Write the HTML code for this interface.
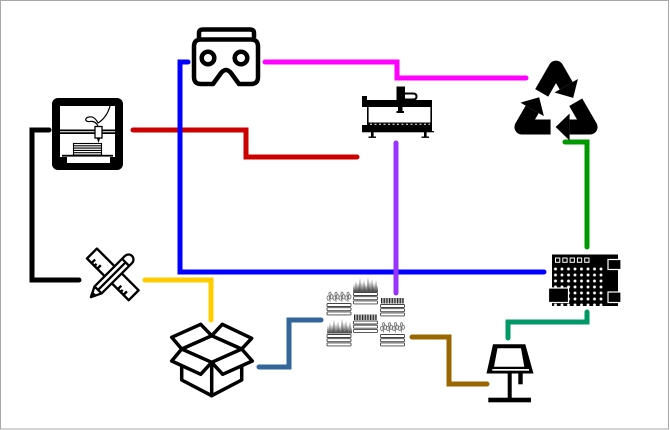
<!DOCTYPE html>
<html><head><meta charset="utf-8"><style>
html,body{margin:0;padding:0;background:#fff;}
svg{display:block;}
</style></head><body>
<svg width="670" height="430" viewBox="0 0 670 430" xmlns="http://www.w3.org/2000/svg">
<defs>
<pattern id="dots" x="552.25" y="266" width="6.5" height="6" patternUnits="userSpaceOnUse"><circle cx="3.25" cy="3" r="1.45" fill="#fff"/></pattern>
</defs>
<rect x="0.5" y="0.5" width="668" height="428.5" fill="#fff" stroke="#a8a8a8" stroke-width="1"/>

<!-- connectors -->
<g fill="none" stroke-width="5" stroke-linecap="round" stroke-linejoin="miter">
<path d="M49,130 H32 V280 H79" stroke="#000"/>
<path d="M133,130 H246 V157 H357" stroke="#cc0000"/>
<path d="M188,62 H180 V272 H544" stroke="#0000ff"/>
<path d="M265,62 H397 V78 H526" stroke="#ff00ff"/>
<path d="M396,143 V293" stroke="#9933ff"/>
<path d="M565,142 H587 V247" stroke="#009900"/>
<path d="M587,312 V322 H508 V338" stroke="#009966"/>
<path d="M412,337 H449 V384 H487" stroke="#996600"/>
<path d="M145,280 H211 V320" stroke="#ffcc00"/>
<path d="M259,367 H289 V320 H321" stroke="#336699"/>
</g>

<!-- VR headset -->
<g fill="none" stroke="#000" stroke-width="4.5" stroke-linejoin="round">
<path d="M199,38 V33 Q199,29.5 203,29.5 H250 Q254,29.5 254,33 V38"/>
<path d="M201,39.5 H251 Q258,39.5 258,46.5 V77 Q258,84 251,84 H239 L231,73 Q226,67 221,73 L213,84 H201 Q194,84 194,77 V46.5 Q194,39.5 201,39.5 Z"/>
<circle cx="208" cy="58" r="6.3"/>
<circle cx="241" cy="58" r="6.3"/>
</g>

<!-- 3D printer -->
<rect x="52" y="98" width="71" height="72" rx="6" fill="#000"/>
<rect x="60" y="106" width="55" height="51" fill="#fff"/>
<rect x="67" y="156.5" width="43" height="6.5" fill="#fff"/>
<rect x="60" y="129.5" width="55" height="4.5" fill="#000"/>
<line x1="60" y1="131.7" x2="115" y2="131.7" stroke="#fff" stroke-width="1"/>
<path d="M98,126 C96,122 93,121 90,121.5 C85,122 84,118 89,117 C93,116 96,119 98,123 C103,120 108,114 110,106" fill="none" stroke="#000" stroke-width="1.2"/>
<rect x="95" y="126.5" width="7" height="11.5" fill="#fff" stroke="#000" stroke-width="1.3"/>
<path d="M97,138.5 H100 L98.5,143 Z" fill="#000"/>
<g fill="none" stroke="#000" stroke-width="1.1">
<rect x="73.5" y="143.5" width="28" height="11.5"/>
<line x1="73.5" y1="145.8" x2="101.5" y2="145.8"/>
<line x1="73.5" y1="148.1" x2="101.5" y2="148.1"/>
<line x1="73.5" y1="150.4" x2="101.5" y2="150.4"/>
<line x1="73.5" y1="152.7" x2="101.5" y2="152.7"/>
</g>
<rect x="62" y="154.8" width="51" height="1.8" fill="#000"/>

<!-- CNC -->
<g fill="#000">
<rect x="362" y="96" width="5" height="11"/>
<rect x="362" y="100" width="70" height="7"/>
<rect x="396.5" y="86.5" width="8.5" height="14"/>
<rect x="398" y="107" width="4.5" height="4"/>
<rect x="396.5" y="111" width="7.5" height="2"/>
<rect x="367" y="107" width="1.6" height="20"/>
<rect x="430.4" y="107" width="1.6" height="25"/>
<rect x="368" y="122.5" width="63.5" height="9"/>
<rect x="362" y="125" width="6" height="6"/>
<rect x="362" y="131" width="72" height="1.3"/>
<rect x="371" y="131" width="2.6" height="6"/>
<rect x="424" y="131" width="2.6" height="6"/>
<rect x="368.5" y="136.5" width="7.5" height="1.4"/>
<rect x="421.5" y="136.5" width="7.5" height="1.4"/>
</g>
<path d="M405,93.5 H413 Q416.5,93.5 416.5,96.5 Q416.5,99.5 413,99.5 H405" fill="none" stroke="#000" stroke-width="2"/>
<line x1="370" y1="124.3" x2="430" y2="124.3" stroke="#fff" stroke-width="1" stroke-dasharray="2 2.5"/>

<!-- Recycle -->
<g fill="#000">
<g>
<path d="M541.7,92.9 L556,68.1 L566.2,85.8" fill="none" stroke="#000" stroke-width="15" stroke-linejoin="round"/>
<path d="M577.9,79.05 L554.5,92.55 L573.2,97.9 Z"/>
</g>
<g transform="rotate(120 556 107.4)">
<path d="M541.7,92.9 L556,68.1 L566.2,85.8" fill="none" stroke="#000" stroke-width="15" stroke-linejoin="round"/>
<path d="M577.9,79.05 L554.5,92.55 L573.2,97.9 Z"/>
</g>
<g transform="rotate(240 556 107.4)">
<path d="M541.7,92.9 L556,68.1 L566.2,85.8" fill="none" stroke="#000" stroke-width="15" stroke-linejoin="round"/>
<path d="M577.9,79.05 L554.5,92.55 L573.2,97.9 Z"/>
</g>
</g>

<!-- Microcontroller -->
<rect x="552" y="254.5" width="66" height="51.5" fill="#000"/>
<rect x="552.25" y="266" width="52" height="40" fill="url(#dots)"/>
<g fill="#000" stroke="#fff" stroke-width="1">
<rect x="555.5" y="258" width="4.3" height="4.3"/>
<rect x="562.8" y="258" width="4.3" height="4.3"/>
<rect x="570.1" y="258" width="4.3" height="4.3"/>
<rect x="577.4" y="258" width="4.3" height="4.3"/>
<rect x="584.7" y="258" width="4.3" height="4.3"/>
<rect x="548.5" y="288" width="20" height="14.5" stroke-width="1.2"/>
<rect x="608" y="259.5" width="13" height="10" stroke-width="1.2"/>
<rect x="608" y="292" width="13" height="10.5" stroke-width="1.2"/>
</g>

<!-- Lamp -->
<path d="M493,344.3 H525.3 L533.5,373.5 H486.5 Z" fill="#000"/>
<path d="M497.5,348.3 H521 L524.3,366.7 H494 Z" fill="#fff"/>
<rect x="492.3" y="369" width="36.7" height="1.7" fill="#fff"/>
<rect x="507.7" y="373" width="4" height="25.5" fill="#000"/>
<rect x="518.3" y="373" width="4.4" height="11.3" fill="#000"/>
<rect x="488.3" y="397.7" width="42.7" height="4.6" fill="#000"/>

<!-- Box -->
<g stroke="#000" stroke-width="3.5" stroke-linejoin="round" stroke-linecap="round">
<path d="M181.7,349 L211.7,335.7 L241.7,349 L211.7,362.3 Z" fill="#fff"/>
<path d="M181.7,349 V380 L211.7,395.7 L241.7,380 V349" fill="#fff"/>
<path d="M211.7,362.3 V395.7" fill="none"/>
<path d="M181.7,349 L171.7,337.3 L200.7,324.3 L211.7,335.7 Z" fill="#fff"/>
<path d="M211.7,335.7 L222.3,324.3 L251.7,338.3 L241.7,349 Z" fill="#fff"/>
<path d="M181.7,349 L171.7,361 L200.7,374.3 L211.7,362.3 Z" fill="#fff"/>
<path d="M211.7,362.3 L222.7,374.3 L252.3,361 L241.7,349 Z" fill="#fff"/>
</g>

<!-- Ruler & pencil -->
<g transform="translate(112.8,274.4) rotate(45)" stroke="#000" stroke-width="2.4">
<rect x="-29.5" y="-7" width="59" height="14" fill="#fff" stroke-linejoin="round"/>
<line x1="-23" y1="7" x2="-23" y2="2"/>
<line x1="-19" y1="7" x2="-19" y2="4"/>
<line x1="-15" y1="7" x2="-15" y2="2"/>
<line x1="14" y1="7" x2="14" y2="2"/>
<line x1="18" y1="7" x2="18" y2="4"/>
<line x1="22" y1="7" x2="22" y2="2"/>
</g>
<g transform="translate(111.5,276.5) rotate(-45)" stroke="#000" stroke-width="2.3" stroke-linejoin="round">
<path d="M-19,-5 H24 A5,5 0 0 1 24,5 H-19 L-29,0 Z" fill="#fff"/>
<line x1="-19" y1="-5" x2="-19" y2="5"/>
<line x1="-19" y1="0" x2="20" y2="0"/>
<line x1="20" y1="-5" x2="20" y2="5"/>
<path d="M-29,0 L-25,-2 L-25,2 Z" fill="#000"/>
</g>

<!-- Plants / planters -->
<g fill="#fff" stroke="#444" stroke-width="0.9">
<rect x="327" y="303.5" width="24" height="3" rx="0.8"/><rect x="327" y="307.7" width="24" height="3" rx="0.8"/><rect x="327" y="311.9" width="24" height="3" rx="0.8"/>
<rect x="327" y="334.5" width="24" height="3" rx="0.8"/><rect x="327" y="338.7" width="24" height="3" rx="0.8"/><rect x="327" y="342.9" width="24" height="3" rx="0.8"/>
<rect x="353.5" y="292.5" width="24" height="3" rx="0.8"/><rect x="353.5" y="296.7" width="24" height="3" rx="0.8"/><rect x="353.5" y="300.9" width="24" height="3" rx="0.8"/>
<rect x="353.5" y="321" width="24" height="3" rx="0.8"/><rect x="353.5" y="325.2" width="24" height="3" rx="0.8"/><rect x="353.5" y="329.4" width="24" height="3" rx="0.8"/>
<rect x="380.5" y="304.5" width="24" height="3" rx="0.8"/><rect x="380.5" y="308.7" width="24" height="3" rx="0.8"/><rect x="380.5" y="312.9" width="24" height="3" rx="0.8"/>
<rect x="380.5" y="334.5" width="24" height="3" rx="0.8"/><rect x="380.5" y="338.7" width="24" height="3" rx="0.8"/><rect x="380.5" y="342.9" width="24" height="3" rx="0.8"/>
</g>
<g fill="#555">
<path transform="translate(353,277)" d="M0,15 L1,7 L2,14 L3,4 L4,14 L5,6 L6,13 L7,1 L8,14 L9,5 L10,14 L11,3 L12,13 L13,7 L14,14 L15,0 L16,13 L17,4 L18,14 L19,2 L20,13 L21,6 L22,14 L23,3 L24,14 L25,8 L25,15 Z"/>
<path transform="translate(327,318.5)" d="M0,15 L1,7 L2,14 L3,4 L4,14 L5,6 L6,13 L7,1 L8,14 L9,5 L10,14 L11,3 L12,13 L13,7 L14,14 L15,0 L16,13 L17,4 L18,14 L19,2 L20,13 L21,6 L22,14 L23,3 L24,14 L25,8 L25,15 Z"/>
</g>
<line x1="354" y1="317.3" x2="377" y2="317.3" stroke="#111" stroke-width="5.5" stroke-dasharray="0.9 0.7"/>
<line x1="381" y1="300.8" x2="404" y2="300.8" stroke="#111" stroke-width="5.5" stroke-dasharray="0.9 0.7"/>
<g stroke="#666" stroke-width="0.7" fill="#eee">
<g transform="translate(327,292)">
<path d="M3,10 V4 M9,10 V4 M15,10 V4 M21,10 V4" fill="none"/>
<ellipse cx="1.3" cy="6" rx="1.3" ry="2.2"/><ellipse cx="4.7" cy="4.8" rx="1.3" ry="2.2"/><ellipse cx="3" cy="1.8" rx="1.1" ry="1.7"/>
<ellipse cx="7.3" cy="6" rx="1.3" ry="2.2"/><ellipse cx="10.7" cy="4.8" rx="1.3" ry="2.2"/><ellipse cx="9" cy="1.8" rx="1.1" ry="1.7"/>
<ellipse cx="13.3" cy="6" rx="1.3" ry="2.2"/><ellipse cx="16.7" cy="4.8" rx="1.3" ry="2.2"/><ellipse cx="15" cy="1.8" rx="1.1" ry="1.7"/>
<ellipse cx="19.3" cy="6" rx="1.3" ry="2.2"/><ellipse cx="22.7" cy="4.8" rx="1.3" ry="2.2"/><ellipse cx="21" cy="1.8" rx="1.1" ry="1.7"/>
</g>
<g transform="translate(380.5,322.5)">
<path d="M3,10 V4 M9,10 V4 M15,10 V4 M21,10 V4" fill="none"/>
<ellipse cx="1.3" cy="6" rx="1.3" ry="2.2"/><ellipse cx="4.7" cy="4.8" rx="1.3" ry="2.2"/><ellipse cx="3" cy="1.8" rx="1.1" ry="1.7"/>
<ellipse cx="7.3" cy="6" rx="1.3" ry="2.2"/><ellipse cx="10.7" cy="4.8" rx="1.3" ry="2.2"/><ellipse cx="9" cy="1.8" rx="1.1" ry="1.7"/>
<ellipse cx="13.3" cy="6" rx="1.3" ry="2.2"/><ellipse cx="16.7" cy="4.8" rx="1.3" ry="2.2"/><ellipse cx="15" cy="1.8" rx="1.1" ry="1.7"/>
<ellipse cx="19.3" cy="6" rx="1.3" ry="2.2"/><ellipse cx="22.7" cy="4.8" rx="1.3" ry="2.2"/><ellipse cx="21" cy="1.8" rx="1.1" ry="1.7"/>
</g>
</g>
</svg>
</body></html>
